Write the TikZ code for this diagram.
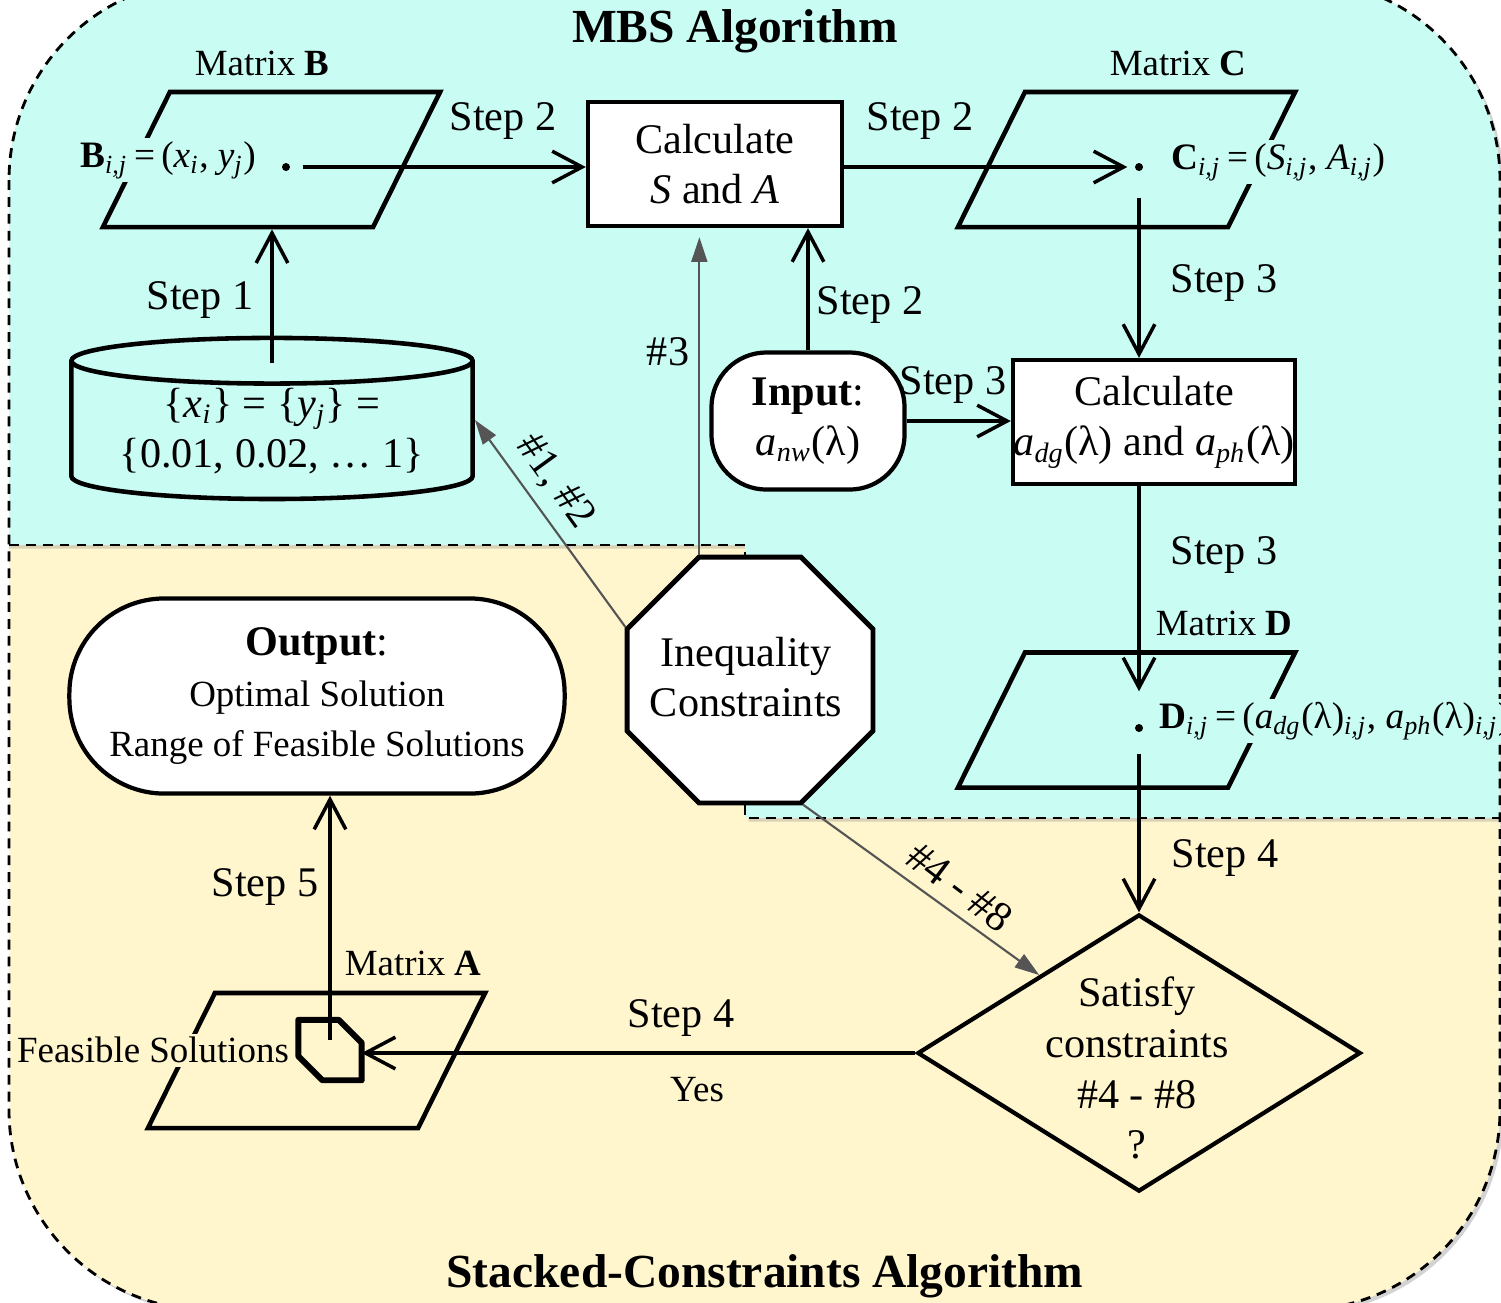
\documentclass[tikz,border=0pt]{standalone}
\usepackage{fontspec}
\setmainfont{Liberation Serif}
\usetikzlibrary{shapes.geometric,arrows.meta,shadows}

\definecolor{mbsbg}{RGB}{201,252,243}
\definecolor{scabg}{RGB}{255,246,206}
\definecolor{hintgray}{RGB}{85,85,85}

\newcommand{\isub}[1]{\textsubscript{\itshape #1}}
\newcommand{\stepfont}{\fontsize{12}{14.4}\selectfont}
\newcommand{\eqfont}{\fontsize{10.6}{13}\selectfont}
\newcommand{\matfont}{\fontsize{10.5}{13}\selectfont}
\newcommand{\headfont}{\fontsize{13.5}{16}\selectfont\bfseries}

\begin{document}
\begin{tikzpicture}[x=0.01cm,y=-0.01cm,
  every node/.style={font=\stepfont},
  proc/.style={draw, line width=1.2pt, fill=white, minimum height=1.24cm, align=center, inner xsep=0pt},
  term/.style={draw, line width=1.2pt, fill=white, align=center},
  io/.style={draw, line width=1.3pt, rectangle, xslant=0.496, minimum width=2.7cm, minimum height=1.35cm, inner sep=0pt},
  pt/.style={circle, fill=black, inner sep=0pt, minimum size=0.08cm},
  eq/.style={font=\eqfont, inner sep=1pt},
  flow/.style={line width=1pt, -{Straight Barb[length=8.5pt,width=9pt]}},
  hint/.style={hintgray, line width=0.6pt, -{Triangle[length=7pt,width=4.5pt]}},
  mat/.style={font=\matfont, inner sep=1pt},
  region/.style={dashed, line width=0.8pt, dash pattern=on 2.8pt off 2pt},
]
\useasboundingbox (0,0) rectangle (1501,1302);

% the two algorithm regions
\fill[scabg, rounded corners=2cm, drop shadow={opacity=0.35, shadow xshift=1pt, shadow yshift=-1pt}]
  (9,-20) rectangle (1500,1310);
\begin{scope}
  \clip[rounded corners=2cm] (9,-20) rectangle (1500,1310);
  \fill[mbsbg, drop shadow={opacity=0.3, shadow xshift=1pt, shadow yshift=-1pt}]
    (0,-30) -- (1510,-30) -- (1510,818) -- (745,818) -- (745,545) -- (0,545) -- cycle;
\end{scope}
\draw[region] (9,545) -- (745,545) -- (745,818) -- (1500,818);
\draw[region, rounded corners=2cm] (9,-20) rectangle (1500,1310);

\node[font=\headfont] (mbs) at (735,31) {MBS Algorithm};
\node[font=\headfont] (sca) at (765,1276) {Stacked-Constraints Algorithm};

% matrices
\node[io] (matB) at (271.5,159.5) {};
\node[io] (matC) at (1126.5,159.5) {};
\node[io] (matD) at (1126.5,720) {};
\node[io] (matA) at (316.5,1060.5) {};

\node[pt] (dotB) at (286,167) {};
\node[pt] (dotC) at (1139,167) {};
\node[pt] (dotD) at (1139,728) {};

\node[eq, fill=mbsbg, anchor=west] (eqB) at (76,160)
  {\textbf{B}\isub{i,j}\,=\,(\textit{x}\isub{i}, \textit{y}\isub{j})};
\node[eq, fill=mbsbg, anchor=west] (eqC) at (1167,162)
  {\textbf{C}\isub{i,j}\,=\,(\textit{S}\isub{i,j}, \textit{A}\isub{i,j})};
\node[eq, fill=mbsbg, anchor=west] (eqD) at (1155,721)
  {\textbf{D}\isub{i,j}\,=\,(\textit{a}\isub{dg}(λ)\isub{i,j}, \textit{a}\isub{ph}(λ)\isub{i,j})};
\node[fill=scabg, inner sep=1pt, font=\matfont] (feasTxt) at (153,1050) {Feasible Solutions};

\node[mat] (labB) at (262,63) {Matrix \textbf{B}};
\node[mat] (labC) at (1178,63) {Matrix \textbf{C}};
\node[mat] (labD) at (1224,623) {Matrix \textbf{D}};
\node[mat] (labA) at (413,963) {Matrix \textbf{A}};

% processing steps
\node[proc, minimum width=2.54cm] (calcSA) at (715,164) {Calculate\\\textit{S} and \textit{A}};
\node[proc, minimum width=2.82cm] (calcAD) at (1154,422)
  {Calculate\\\textit{a}\isub{dg}(λ) and \textit{a}\isub{ph}(λ)};
\node[term, rounded corners=0.55cm, minimum width=1.93cm, minimum height=1.37cm] (input) at (808,421)
  {\textbf{Input}:\\\textit{a}\isub{nw}(λ)};
\node[draw, cylinder, shape border rotate=90, aspect=0.15, line width=1.3pt, minimum width=4.01cm,
  minimum height=1.61cm, align=center, inner sep=0pt] (grid) at (272,431)
  {\{\textit{x}\isub{i}\} = \{\textit{y}\isub{j}\} =\\\{0.01, 0.02, … 1\}};
\node[draw, regular polygon, regular polygon sides=8, minimum size=2.66cm, line width=1.4pt,
  fill=white, inner sep=0pt] (ineq) at (750,680) {};
\node[align=center] (ineqTxt) at (746,677) {Inequality\\Constraints};
\node[draw, diamond, line width=1.2pt, minimum width=4.43cm, minimum height=2.77cm, inner sep=0pt] (sat) at (1139,1053) {};
\node[align=center, text depth=0pt] (satTxt) at (1137,1068) {Satisfy\\constraints\\\#4 - \#8\\?};
\node[term, rounded corners=0.95cm, minimum width=4.95cm, minimum height=1.95cm] (output) at (317,696)
  {\textbf{Output}:\\{\matfont Optimal Solution}\\{\matfont Range of Feasible Solutions}};

% feasible set marker
\node[minimum width=0.62cm, minimum height=0.59cm, inner sep=0pt] (feas) at (330,1050) {};
\draw[line width=1.7pt, line join=round]
  (feas.north west) -- ([xshift=-0.23cm]feas.north east) -- ([yshift=-0.23cm]feas.north east)
  -- (feas.south east) -- ([xshift=0.24cm]feas.south west) -- ([yshift=0.24cm]feas.south west) -- cycle;

% step arrows
\draw[flow] (grid.north |- 0,363) -- (grid.north |- matB.south);
\draw[flow, shorten <=0.12cm] (dotB) -- (dotB -| calcSA.west);
\draw[flow, shorten >=0.07cm] (calcSA.east |- dotC) -- (dotC);
\draw[flow] (input.north) -- (input.north |- calcSA.south);
\draw[flow, shorten <=0.26cm] (dotC) -- (dotC |- calcAD.north);
\draw[flow] (input.east) -- (input.east -| calcAD.west);
\draw[flow, shorten >=0.32cm] (dotD |- calcAD.south) -- (dotD);
\draw[flow, shorten <=0.21cm] (dotD) -- (sat.north);
\draw[flow] (sat.west) -- (sat.west -| feas.east);
\draw[flow] (feas.center |- 0,1040) -- (feas.center |- output.south);

% constraint hints
\draw[hint, shorten >=0.09cm] (ineq.112.5) -- (ineq.112.5 |- calcSA.south);
\draw[hint] (ineq.157.5) -- (grid.east |- 0,420);
\draw[hint] (ineq.-67.5) -- (sat.142);

\node (s1) at (200,300) {Step 1};
\node (s2a) at (503,121) {Step 2};
\node (s2b) at (920,121) {Step 2};
\node (s2c) at (870,305) {Step 2};
\node (s3a) at (1224,283) {Step 3};
\node (s3b) at (953,385) {Step 3};
\node (s3c) at (1224,555) {Step 3};
\node (s4a) at (1225,858) {Step 4};
\node (s4b) at (681,1018) {Step 4};
\node (s5) at (265,887) {Step 5};
\node[font=\matfont] (yes) at (697,1090) {Yes};
\node (h3) at (668,352) {\#3};
\node[rotate=-54] (h12) at (555,482) {\#1, \#2};
\node[rotate=-37] (h48) at (960,887) {\#4 - \#8};
\end{tikzpicture}
\end{document}
